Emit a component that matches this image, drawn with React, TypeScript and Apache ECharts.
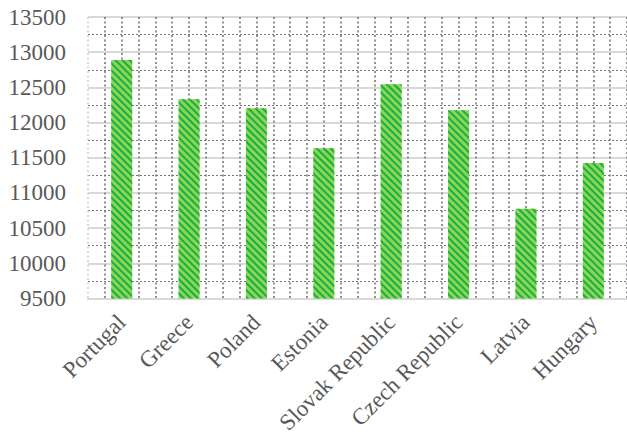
import React, { useEffect, useRef } from "react";
import * as echarts from "echarts";

const categories = ["Portugal", "Greece", "Poland", "Estonia", "Slovak Republic", "Czech Republic", "Latvia", "Hungary"];
const values = [12890, 12330, 12205, 11635, 12545, 12175, 10775, 11425];
const yMin = 9500;
const yMax = 13500;
const yInterval = 500;

export default function App() {
  const ref = useRef<HTMLDivElement>(null);
  useEffect(() => {
    const chart = echarts.init(ref.current!, null, { renderer: "svg" });
    const n = categories.length * 4;
    const vColors = Array.from({ length: n + 1 }, (_, i) => (i === 0 ? "#d0d0d0" : "#767676"));
    const font = "'Liberation Serif', 'Times New Roman', serif";
    chart.setOption({
      animation: false,
      grid: { left: 88, top: 17, width: 540, height: 281.5, containLabel: false },
      xAxis: [
        {
          type: "category",
          data: categories,
          axisLine: { show: true, lineStyle: { color: "#d9d9d9", width: 2 } },
          axisTick: { show: false },
          axisLabel: {
            rotate: 45,
            interval: 0,
            margin: 20,
            color: "#595959",
            fontFamily: font,
            fontSize: 23,
          },
          splitLine: { show: false },
        },
        {
          type: "value",
          min: 0,
          max: n,
          interval: 1,
          position: "bottom",
          axisLine: { show: false },
          axisTick: { show: false },
          axisLabel: { show: false },
          splitLine: { show: true, lineStyle: { color: vColors, width: 1.6, type: [2, 2.5] } },
        },
      ],
      yAxis: {
        type: "value",
        min: yMin,
        max: yMax,
        interval: yInterval,
        axisLine: { show: false },
        axisTick: { show: false },
        axisLabel: {
          margin: 22,
          color: "#595959",
          fontFamily: font,
          fontSize: 23,
          formatter: (v: number) => String(v),
        },
        splitLine: { show: true, lineStyle: { color: "#d9d9d9", width: 2 } },
        minorTick: { show: false, splitNumber: 2 },
        minorSplitLine: { show: true, lineStyle: { color: "#767676", width: 1.2, type: [2, 2] } },
      },
      series: [
        {
          type: "bar",
          xAxisIndex: 0,
          data: values,
          barWidth: 21,
          itemStyle: {
            color: "#8fd550",
            decal: {
              symbol: "rect",
              symbolSize: 1,
              color: "#12b04c",
              dashArrayX: [1, 0],
              dashArrayY: [1.4, 2.8],
              rotation: Math.PI / 4,
            },
          },
        },
      ],
    });
    return () => chart.dispose();
  }, []);
  return <div ref={ref} style={{ position: "fixed", left: 0, top: 0, width: 627, height: 445, background: "#fff" }} />;
}
